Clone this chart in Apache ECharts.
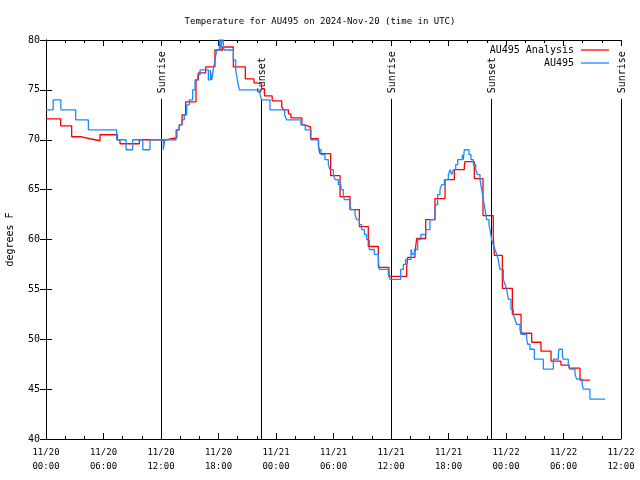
<!DOCTYPE html>
<html><head><meta charset="utf-8">
<script src="https://cdn.jsdelivr.net/npm/echarts@6/dist/echarts.min.js"></script>
<style>html,body{margin:0;padding:0;background:#fff}#c{width:640px;height:480px}</style>
</head><body><div id="c"></div>
<script>
// hours since 2024-11-20 00:00 UTC
const xTickLabels = ['11/20\n00:00','11/20\n06:00','11/20\n12:00','11/20\n18:00','11/21\n00:00','11/21\n06:00','11/21\n12:00','11/21\n18:00','11/22\n00:00','11/22\n06:00','11/22\n12:00'];
const yTickValues = [40,45,50,55,60,65,70,75,80];

const obsTimes = [0,0.75,1.55,3.1,4.42,7.37,8.35,9.04,10.1,10.85,12.24,12.4,13.57,13.91,14.16,14.43,14.68,14.96,15.3,15.55,15.83,16.07,16.94,17.15,17.3,17.45,17.64,17.81,18.09,18.26,18.4,18.57,19.55,19.79,19.97,20.17,22.33,22.5,23.37,24.9,25.1,26.6,27.05,27.65,28.45,28.7,29.11,29.46,29.64,29.98,30.16,30.5,30.78,31.03,31.13,31.7,31.83,32.24,32.42,32.7,32.94,33.22,33.46,33.74,34.26,34.68,34.78,35.72,35.9,37.01,37.29,37.53,38.09,38.23,38.44,38.78,39.13,39.62,40.07,40.59,40.66,40.87,41.11,41.29,41.57,41.98,42.16,42.33,42.5,42.75,42.96,43.44,43.55,43.65,44.14,44.35,44.59,44.84,45.03,45.29,45.46,45.64,45.81,45.98,46.23,46.33,46.5,46.67,46.85,47.03,47.2,47.27,47.37,47.72,47.9,48.07,48.25,48.52,48.77,48.94,49.11,49.46,49.57,50.16,50.26,50.5,50.96,51.9,52.94,53.46,53.53,53.88,53.95,54.5,54.68,55.2,55.37,55.95,56.06,56.76,58.33];
const obsTemps = [73,74,73,72,71,70,69,70,69,70,69,70,71,71.5,72,72.5,73.5,74,75,76,76.5,77,76,77,76,77,78,79,80.5,79,80.5,79,78,77,76,75,74.5,74,73,72.5,72,71.5,71,70,69,68.5,68,67.5,67,66.5,66,65.5,65,64.5,64,63.5,63,62.5,62,61.5,61,60.5,60,59,58.5,58,57,56.5,56,57,57.5,58,59,58.5,59,60,60.5,61,62,63,63.5,64.5,65,65.5,66,66.5,67,66.5,67,67.5,68,68.5,68,69,68.5,68,67.5,67,66.5,66,65,64,63,62,61.5,61,60,59.5,59,58.5,58,57.5,57,56,55.5,55,54,53,52.5,52,51.5,51,50.5,50,49.5,49,48,47,48,48.5,49,48.5,48,47.5,47,46.5,46,45.5,45,44,44];

const anaTimes = [0,1.53,2.68,3.72,4.59,5.63,7.44,7.72,9.74,11.9,12.59,13.65,13.9,14.2,14.57,15.65,15.9,16.66,17.63,18.43,19.55,20.8,21.7,22.0,22.5,22.8,23.6,24.6,24.77,25.3,25.55,26.7,26.96,27.6,28.42,28.59,29.7,30.68,31.72,32.7,33.63,34.68,35.79,37.64,37.74,38.5,38.68,39.62,40.59,41.64,42.61,43.65,43.72,44.69,45.6,46.67,46.78,47.62,48.66,49.57,50.68,51.65,52.7,53.74,54.58,55.72,56.76];
const anaTemps = [72.1,71.4,70.3,70.1,69.9,70.5,70.0,69.6,70.0,70.0,70.2,71.0,71.5,72.5,73.8,76.0,76.7,77.3,79.0,79.3,77.3,76.1,75.7,75.6,75.1,74.4,73.9,73.3,73.0,72.6,72.2,71.5,71.3,70.1,69.4,68.6,66.4,64.3,63.0,61.3,59.3,57.2,56.3,57.3,58.2,58.7,60.1,62.0,64.1,66.0,67.0,67.4,67.8,66.1,62.4,60.4,58.4,55.1,52.5,50.6,49.7,48.8,47.8,47.4,47.1,45.9,45.9];

const sunTimes = [12.07,22.47,36.07,46.49,60.07];
const sunLabels = ['Sunrise','Sunset','Sunrise','Sunset','Sunrise'];

const MONO = 'DejaVu Sans Mono';
const zip = (a,b) => a.map((v,i)=>[v,b[i]]);

const chart = echarts.init(document.getElementById('c'), null, {renderer:'canvas'});
const xCommon = {
  type:'value', min:0, max:60, interval:6,
  axisLine:{show:true, lineStyle:{color:'#000', width:1}},
  axisTick:{show:true, inside:true, length:6, lineStyle:{color:'#000'}},
  minorTick:{show:true, splitNumber:3, length:3, lineStyle:{color:'#000'}},
  splitLine:{show:false}
};
const yCommon = {
  type:'value', min:40, max:80, interval:5,
  axisLine:{show:true, lineStyle:{color:'#000', width:1}},
  axisTick:{show:true, inside:true, length:6, lineStyle:{color:'#000'}},
  splitLine:{show:false}
};
const legendCommon = {right:31, padding:0, align:'right', icon:'rect', itemWidth:28, itemHeight:1.3, itemGap:7,
  textStyle:{fontFamily:MONO, fontSize:10, color:'#000', padding:[0,2,0,0]}};
chart.setOption({
  animation:false,
  backgroundColor:'#fff',
  title:{text:'Temperature for AU495 on 2024-Nov-20 (time in UTC)', left:'center', top:12,
    textStyle:{fontFamily:MONO, fontSize:9, fontWeight:'normal', color:'#000'}},
  grid:{left:46, right:19, top:40, bottom:41, containLabel:false, outerBoundsMode:'none'},
  legend:[
    Object.assign({data:['AU495 Analysis'], top:45}, legendCommon),
    Object.assign({data:['AU495'], top:58}, legendCommon)
  ],
  xAxis:[
    Object.assign({}, xCommon, {position:'bottom',
      axisLabel:{show:true, margin:7, fontFamily:MONO, fontSize:9, color:'#000', lineHeight:14,
        formatter:(v)=>xTickLabels[Math.round(v/6)]}}),
    Object.assign({}, xCommon, {position:'top', axisLabel:{show:false}})
  ],
  yAxis:[
    Object.assign({}, yCommon, {position:'left', name:'degrees F', nameLocation:'middle', nameGap:31, nameRotate:90,
      nameTextStyle:{fontFamily:MONO, fontSize:10, color:'#000'},
      axisLabel:{show:true, margin:6, fontFamily:MONO, fontSize:10, color:'#000',
        formatter:(v)=> yTickValues.includes(v) ? String(v) : ''}}),
    Object.assign({}, yCommon, {position:'right', axisLabel:{show:false}})
  ],
  series:[
    {name:'AU495 Analysis', type:'line', step:'end', data:zip(anaTimes, anaTemps), symbol:'none', showSymbol:false,
     lineStyle:{color:'#ff0000', width:1.3}, itemStyle:{color:'#ff0000'}, z:3},
    {name:'AU495', type:'line', step:'end', data:zip(obsTimes, obsTemps), symbol:'none', showSymbol:false,
     lineStyle:{color:'#1a8cff', width:1.3}, itemStyle:{color:'#1a8cff'}, z:4},
    {name:'sun', type:'custom', silent:true, z:2, clip:false,
     data:sunTimes.map(t=>[t, 74.1]),
     encode:{x:0, y:1},
     renderItem:(params, api)=>{
       const t = api.value(0);
       const p0 = api.coord([t, 40]);
       const p1 = api.coord([t, api.value(1)]);
       const pl = api.coord([t, 74.65]);
       const x = Math.round(p0[0] - 0.5) + 0.5;
       return {type:'group', children:[
         {type:'line', shape:{x1:x, y1:p0[1], x2:x, y2:p1[1]}, style:{stroke:'#000', lineWidth:1}},
         {type:'text', x:x+0.5, y:pl[1], rotation:Math.PI/2,
          style:{text:sunLabels[params.dataIndex], font:'10px "'+MONO+'"', fill:'#000', align:'left', verticalAlign:'middle'}}
       ]};
     }}
  ]
});
</script></body></html>
